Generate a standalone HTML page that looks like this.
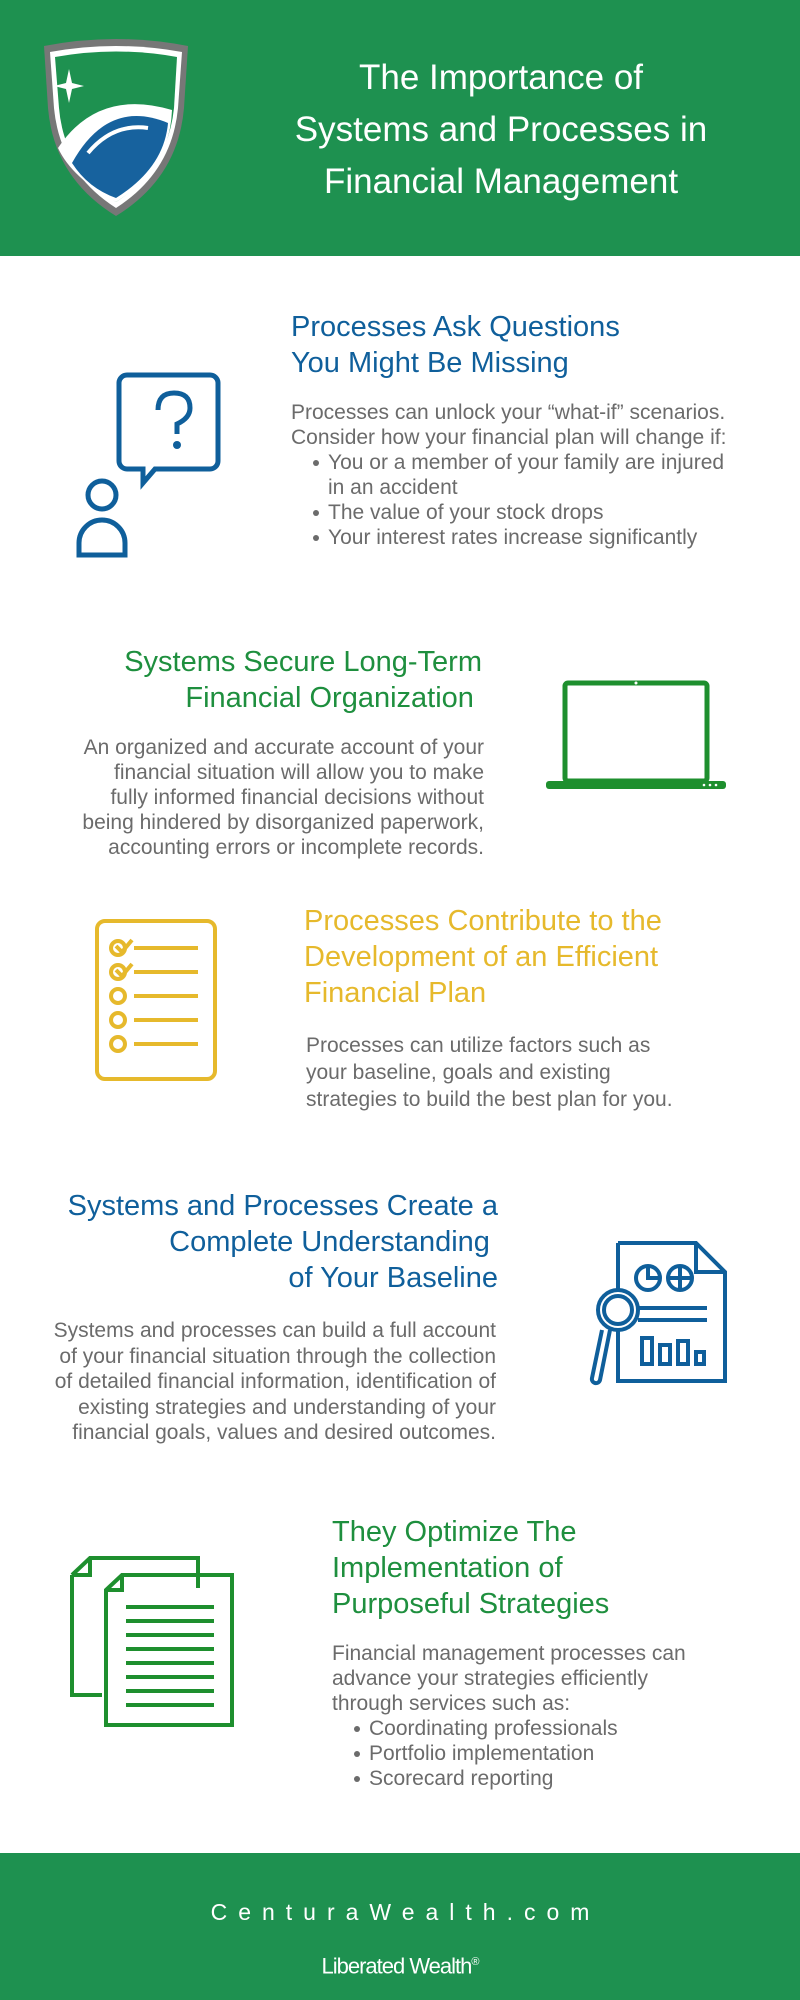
<!DOCTYPE html>
<html><head><meta charset="utf-8"><style>
*{margin:0;padding:0;box-sizing:border-box}
body{width:800px;height:2000px;position:relative;background:#fff;font-family:"Liberation Sans",Arial,sans-serif;overflow:hidden}
.abs{position:absolute}
.h{font-size:29px;line-height:36px;white-space:nowrap}
.b{font-size:21px;line-height:25px;color:#6b6b6b;white-space:nowrap}
.g{color:#1e8f3e}.bl{color:#0f5f9b}.y{color:#e6b92c}
ul{list-style:none}
li{position:relative;padding-left:37px}
li:before{content:"";position:absolute;left:22px;top:10px;width:6px;height:6px;border-radius:50%;background:#6b6b6b}
</style></head><body>
<div class="abs" style="left:0;top:0;width:800px;height:256px;background:#1e9150"></div>
<svg class="abs" style="left:38px;top:38px" width="156" height="182" viewBox="0 0 156 182">
<path d="M6 8 Q78 -6 150 8 L146 70 Q140 140 78 178 Q16 140 10 70 Z" fill="#777"/>
<path d="M12 14 Q78 2 144 14 L140 70 Q134 134 78 170 Q22 134 16 70 Z" fill="#fff"/>
<path d="M17 19 Q78 8 139 19 L136 70 Q130 130 78 164 Q26 130 21 70 Z" fill="#1e9150"/>
<path d="M20 110 Q60 50 134 72 Q132 130 78 164 Q34 140 20 110Z" fill="#fff"/>
<path d="M34 125 Q70 60 130 85 Q126 130 78 160 Q50 150 34 125Z" fill="#17629e"/>
<path d="M40 95 Q70 70 110 75" stroke="#fff" stroke-width="4" fill="none"/>
<path d="M50 115 Q75 85 110 90" stroke="#fff" stroke-width="4" fill="none"/>
<path d="M28 45 l3 -14 l3 14 l12 3 l-12 3 l-3 14 l-3 -14 l-12 -3z" fill="#fff"/>
</svg>
<div class="abs" style="left:236px;top:52px;width:530px;text-align:center;color:#fff;font-size:35px;line-height:52px">The Importance of<br>Systems and Processes in<br>Financial Management</div>

<!-- Section 1 -->
<svg class="abs" style="left:70px;top:365px" width="160" height="200" viewBox="0 0 160 200">
<g fill="none" stroke="#0f5f9b" stroke-width="5">
<path d="M57 10 h83 a8 8 0 0 1 8 8 v78 a8 8 0 0 1 -8 8 h-55 l-12 14 v-14 h-16 a8 8 0 0 1 -8 -8 v-78 a8 8 0 0 1 8 -8z"/>
<path d="M88 45 q0 -17 16 -17 q16 0 16 15 q0 10 -13 16 v10"/>
<circle cx="32" cy="130" r="14"/>
<path d="M9 190 v-12 a23 23 0 0 1 46 0 v12 z"/>
</g><circle cx="107" cy="80" r="4" fill="#0f5f9b"/></svg>
<div class="abs h bl" style="left:291px;top:309px">Processes Ask Questions<br>You Might Be Missing</div>
<div class="abs b" style="left:291px;top:400px">Processes can unlock your “what-if” scenarios.<br>Consider how your financial plan will change if:
<ul><li>You or a member of your family are injured<br>in an accident</li><li>The value of your stock drops</li><li>Your interest rates increase significantly</li></ul></div>

<!-- Section 2 -->
<div class="abs h g" style="right:318px;top:644px;text-align:right">Systems Secure Long-Term<br>Financial Organization&nbsp;</div>
<div class="abs b" style="right:316px;top:735px;text-align:right">An organized and accurate account of your<br>financial situation will allow you to make<br>fully informed financial decisions without<br>being hindered by disorganized paperwork,<br>accounting errors or incomplete records.</div>
<svg class="abs" style="left:544px;top:678px" width="184" height="114" viewBox="0 0 184 114">
<rect x="21" y="5" width="142" height="98" rx="3" fill="none" stroke="#1e8f2e" stroke-width="5"/>
<rect x="2" y="103" width="180" height="8" rx="3" fill="#1e8f2e"/>
<circle cx="92" cy="5" r="1.5" fill="#fff"/>
<circle cx="160" cy="107" r="1.3" fill="#fff"/><circle cx="166" cy="107" r="1.3" fill="#fff"/><circle cx="172" cy="107" r="1.3" fill="#fff"/>
</svg>

<!-- Section 3 -->
<svg class="abs" style="left:94px;top:918px" width="124" height="164" viewBox="0 0 124 164">
<g fill="none" stroke="#e6b92c" stroke-width="4">
<rect x="3" y="3" width="118" height="158" rx="8"/>
<path d="M22 28 l6 6 l10 -12"/><circle cx="24" cy="30" r="7"/><line x1="40" y1="30" x2="104" y2="30"/>
<path d="M22 52 l6 6 l10 -12"/><circle cx="24" cy="54" r="7"/><line x1="40" y1="54" x2="104" y2="54"/>
<circle cx="24" cy="78" r="7"/><line x1="40" y1="78" x2="104" y2="78"/>
<circle cx="24" cy="102" r="7"/><line x1="40" y1="102" x2="104" y2="102"/>
<circle cx="24" cy="126" r="7"/><line x1="40" y1="126" x2="104" y2="126"/>
</g></svg>
<div class="abs h y" style="left:304px;top:903px">Processes Contribute to the<br>Development of an Efficient<br>Financial Plan</div>
<div class="abs b" style="left:306px;top:1032px;line-height:27px">Processes can utilize factors such as<br>your baseline, goals and existing<br>strategies to build the best plan for you.</div>

<!-- Section 4 -->
<div class="abs h bl" style="right:302px;top:1188px;text-align:right">Systems and Processes Create a<br>Complete Understanding&nbsp;<br>of Your Baseline</div>
<div class="abs b" style="right:304px;top:1318px;text-align:right;line-height:25.5px">Systems and processes can build a full account<br>of your financial situation through the collection<br>of detailed financial information, identification of<br>existing strategies and understanding of your<br>financial goals, values and desired outcomes.</div>
<svg class="abs" style="left:582px;top:1240px" width="148" height="146" viewBox="0 0 148 146">
<g fill="none" stroke="#0f5f9b" stroke-width="4">
<path d="M36 3 h78 l29 29 v109 h-107 v-50"/><path d="M36 50 v-47"/><path d="M114 3 v29 h29"/>
<circle cx="66" cy="38" r="12"/><path d="M66 26 v12 h12"/>
<circle cx="98" cy="38" r="12"/><path d="M98 26 v24 M86 38 h24"/>
<line x1="56" y1="68" x2="125" y2="68"/><line x1="56" y1="80" x2="125" y2="80"/>
<rect x="60" y="98" width="10" height="26"/><rect x="78" y="105" width="10" height="19"/><rect x="96" y="101" width="10" height="23"/><rect x="114" y="112" width="8" height="12"/>
<circle cx="36" cy="70" r="20"/><circle cx="36" cy="70" r="14"/>
<path d="M28 90 l-10 50 a4 4 0 0 1 -8 -2 l10 -48" stroke-width="4"/>
</g></svg>

<!-- Section 5 -->
<svg class="abs" style="left:68px;top:1555px" width="168" height="172" viewBox="0 0 168 172">
<g fill="none" stroke="#1e8f2e" stroke-width="4">
<path d="M4 20 v120 h30"/><path d="M4 20 l18 -17 h108 v30"/><path d="M22 3 v17 h-18"/>
<path d="M38 35 l16 -15 h110 v150 h-126 z"/><path d="M54 20 v15 h-16"/>
<line x1="58" y1="52" x2="146" y2="52"/><line x1="58" y1="66" x2="146" y2="66"/><line x1="58" y1="80" x2="146" y2="80"/><line x1="58" y1="94" x2="146" y2="94"/><line x1="58" y1="108" x2="146" y2="108"/><line x1="58" y1="122" x2="146" y2="122"/><line x1="58" y1="136" x2="146" y2="136"/><line x1="58" y1="150" x2="146" y2="150"/>
</g></svg>
<div class="abs h g" style="left:332px;top:1514px">They Optimize The<br>Implementation of<br>Purposeful Strategies</div>
<div class="abs b" style="left:332px;top:1641px">Financial management processes can<br>advance your strategies efficiently<br>through services such as:
<ul><li>Coordinating professionals</li><li>Portfolio implementation</li><li>Scorecard reporting</li></ul></div>

<!-- Footer -->
<div class="abs" style="left:0;top:1853px;width:800px;height:147px;background:#1e9150"></div>
<div class="abs" style="left:0;top:1897px;width:800px;text-align:center;color:#fff;font-size:23px;line-height:30px;letter-spacing:11px;padding-left:11px">CenturaWealth.com</div>
<div class="abs" style="left:0;top:1948px;width:800px;text-align:center;color:#fff;font-size:22px;line-height:28px;letter-spacing:-1px">Liberated Wealth<sup style="font-size:11px">®</sup></div>
</body></html>
